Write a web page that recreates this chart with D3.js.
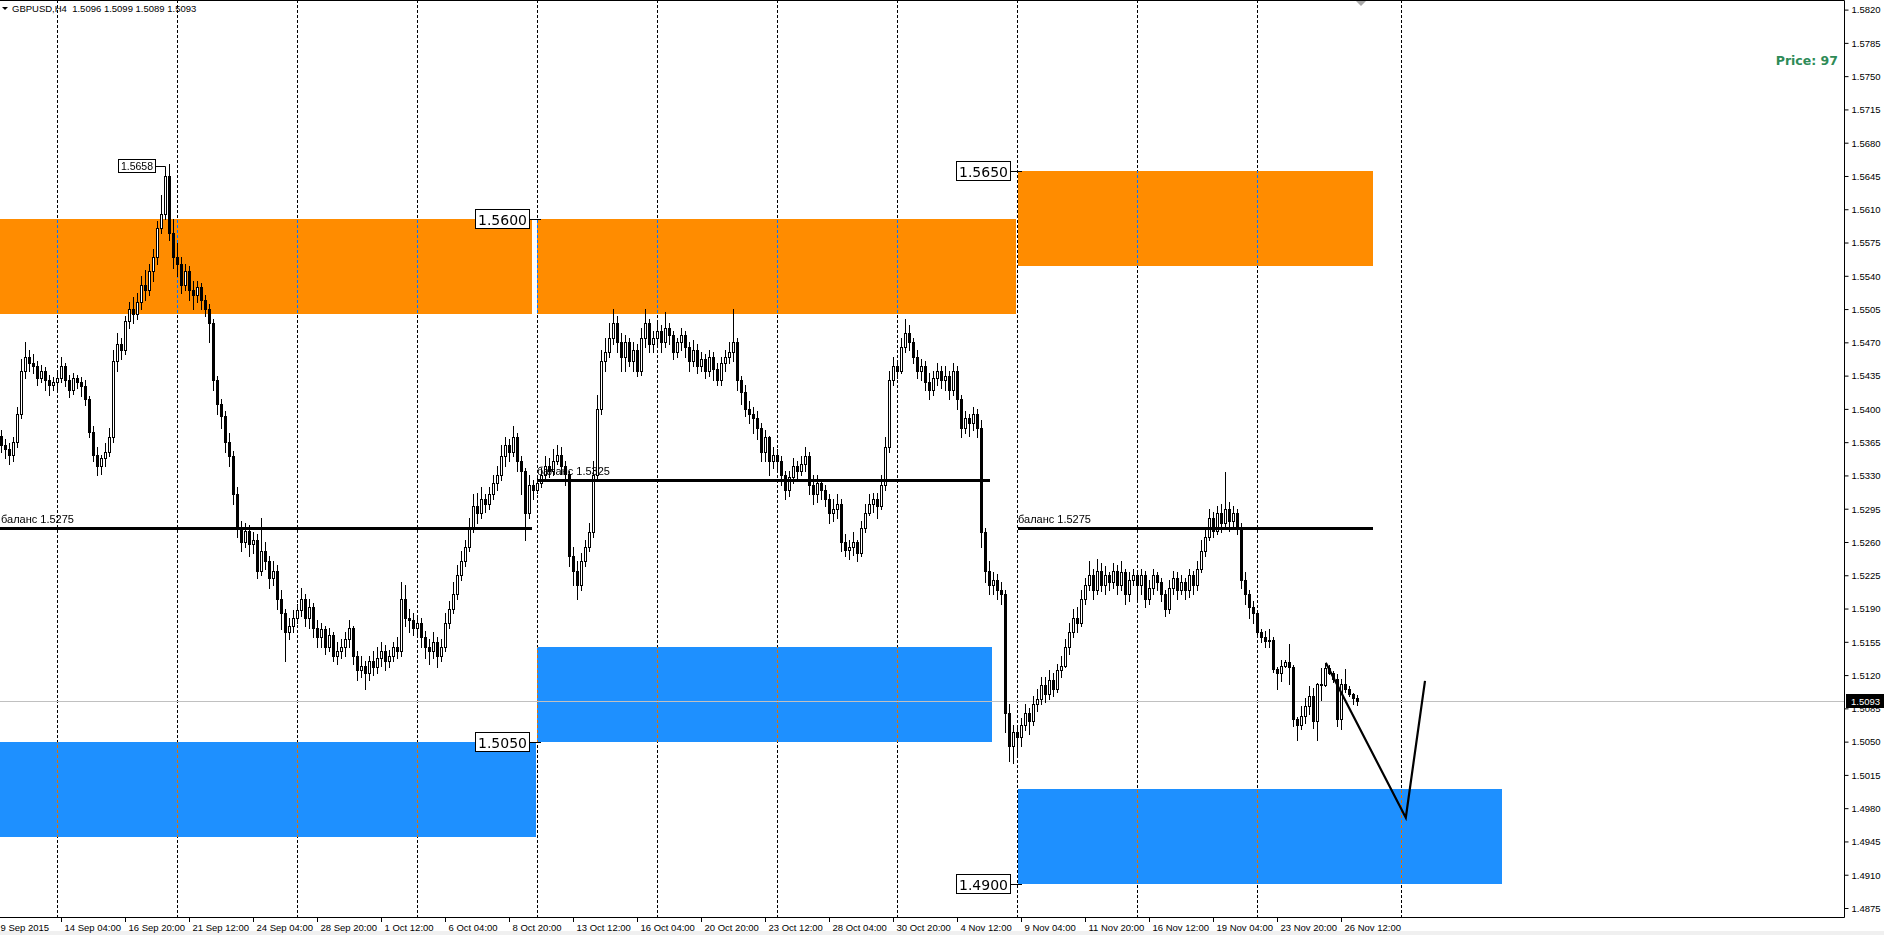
<!DOCTYPE html>
<html>
<head>
<meta charset="utf-8">
<script src="https://cdn.jsdelivr.net/npm/d3@7"></script>
<style>
  html, body { margin: 0; padding: 0; background: #fff; }
  svg { display: block; }
  .small { font-family: "Liberation Sans", Arial, sans-serif; font-size: 9.5px; fill: #000; }
  .lvl { font-family: "DejaVu Sans", Verdana, sans-serif; font-size: 14px; fill: #000; }
</style>
</head>
<body>
<script>
// Define SVG area dimensions
var svgWidth = 1884;
var svgHeight = 935;

// plot area (price scale sits on the right, time scale below)
var plotRight = 1844;
var plotBottom = 917;

// ---- data ----
// bar index 0 = Mon 14 Sep 2015 00:00 (H4 bars, 6 per day, 30 per week)
var firstBar = -14;
var firstOpen = 5372;
// prices stored as the 4 digits after "1." (5362 -> 1.5362)
var closes = [5362,5358,
  5352,5365,5395,5440,5455,5448, 5445,5432,5440,5430,5425,5428,
  5432,5445,5430,5420,5432,5428, 5424,5410,5376,5352,5340,5348, 5355,5370,5450,5468,5462,5492,
  5505,5500,5512,5530,5525,5545, 5560,5590,5605,5645,5585,5560,
  5552,5530,5545,5525,5520,5528, 5515,5505,5490,5430,5405,5392, 5365,5350,5310,5275,5260,5272,
  5258,5262,5230,5250,5240,5222, 5230,5200,5185,5165,5172,5180,
  5188,5200,5180,5192,5170,5160, 5168,5150,5162,5140,5145,5150, 5158,5170,5140,5125,5130,5122,
  5135,5128,5138,5145,5135,5140, 5150,5145,5200,5180,5178,5170,
  5175,5160,5150,5145,5155,5140, 5150,5175,5190,5205,5225,5240, 5255,5275,5298,5290,5305,5300,
  5310,5322,5330,5350,5362,5355, 5370,5345,5335,5290,5320,5315,
  5322,5330,5340,5335,5345,5352, 5340,5332,5245,5230,5215,5240, 5255,5270,5330,5400,5450,5460,
  5475,5490,5470,5455,5470,5450, 5462,5440,5475,5490,5468,5475,
  5482,5470,5485,5478,5460,5470, 5478,5465,5450,5462,5445,5452, 5440,5455,5442,5430,5448,5455,
  5460,5470,5430,5418,5400,5395, 5390,5380,5355,5370,5345,5352,
  5345,5330,5315,5328,5340,5335, 5342,5350,5320,5310,5322,5315, 5305,5290,5295,5300,5260,5252,
  5255,5260,5248,5275,5290,5300, 5305,5298,5320,5360,5430,5445,
  5440,5465,5480,5470,5455,5440, 5445,5428,5420,5432,5440,5430, 5435,5420,5440,5410,5380,5390,
  5385,5395,5380,5270,5230,5215, 5220,5210,5205,5080,5045,5060,
  5055,5068,5080,5072,5090,5095, 5110,5100,5115,5105,5125,5130, 5150,5165,5180,5175,5200,5215,
  5225,5210,5230,5215,5225,5218, 5230,5215,5228,5205,5220,5225,
  5215,5225,5200,5212,5225,5218, 5205,5190,5212,5222,5210,5218, 5210,5225,5215,5232,5250,5265,
  5285,5272,5290,5280,5295,5282, 5290,5275,5220,5205,5192,5185,
  5165,5160,5156,5157,5126,5122, 5130,5134,5129,5074,5067,5077, 5087,5098,5072,5111,5110,5127,
  5122,5116,5074,5111,5105,5100, 5096,5093];
var highs = [5378,5368,
  5364,5370,5402,5452,5470,5462, 5458,5450,5446,5444,5436,5434,
  5440,5455,5448,5436,5438,5436, 5434,5430,5414,5382,5360,5352, 5364,5380,5462,5480,5475,5498,
  5512,5518,5522,5540,5546,5552, 5568,5598,5625,5652,5658,5600,
  5575,5560,5552,5550,5535,5535, 5532,5520,5510,5495,5435,5410, 5398,5375,5356,5318,5282,5280,
  5278,5270,5268,5285,5260,5245, 5240,5236,5210,5190,5180,5188,
  5195,5212,5205,5200,5196,5178, 5175,5172,5170,5165,5155,5158, 5165,5178,5172,5145,5140,5135,
  5140,5145,5150,5155,5152,5146, 5155,5160,5218,5215,5190,5185,
  5182,5180,5166,5158,5165,5160, 5158,5185,5198,5218,5236,5250, 5262,5285,5310,5312,5318,5310,
  5318,5330,5340,5362,5370,5368, 5382,5375,5350,5338,5330,5325,
  5330,5338,5350,5348,5358,5362, 5360,5345,5335,5255,5240,5248, 5262,5280,5345,5415,5462,5475,
  5490,5505,5498,5480,5478,5475, 5470,5468,5485,5505,5495,5482,
  5490,5488,5502,5490,5482,5475, 5485,5482,5470,5472,5468,5460, 5458,5462,5460,5448,5455,5462,
  5470,5505,5475,5435,5425,5408, 5402,5398,5385,5378,5372,5360,
  5358,5350,5335,5335,5348,5345, 5350,5360,5355,5330,5330,5325, 5320,5310,5305,5310,5305,5268,
  5262,5270,5262,5282,5300,5310, 5312,5312,5330,5370,5440,5455,
  5450,5475,5495,5488,5475,5462, 5452,5450,5438,5440,5448,5445, 5445,5440,5448,5445,5415,5398,
  5395,5402,5400,5388,5275,5240, 5228,5226,5218,5210,5090,5068,
  5068,5075,5090,5085,5098,5105, 5118,5118,5125,5122,5132,5140, 5158,5175,5190,5192,5210,5222,
  5240,5232,5242,5238,5235,5228, 5238,5236,5240,5232,5228,5232,
  5228,5232,5230,5220,5232,5228, 5222,5210,5220,5230,5228,5225, 5222,5232,5230,5240,5262,5275,
  5295,5292,5298,5300,5334,5302, 5298,5295,5280,5228,5210,5198,
  5188,5168,5166,5168,5160,5128, 5136,5136,5153,5131,5076,5087, 5096,5108,5106,5112,5127,5133,
  5131,5124,5121,5116,5126,5108, 5101,5099];
var lows = [5355,5348,
  5342,5345,5360,5390,5432,5440, 5438,5425,5428,5420,5415,5420,
  5418,5428,5424,5412,5416,5422, 5414,5404,5370,5345,5330,5332, 5340,5350,5365,5440,5452,5458,
  5485,5490,5495,5505,5515,5520, 5535,5552,5585,5600,5578,5548,
  5540,5522,5525,5515,5505,5512, 5505,5498,5470,5420,5395,5380, 5355,5340,5300,5265,5250,5255,
  5245,5248,5222,5225,5232,5212, 5215,5190,5168,5135,5158,5165,
  5175,5182,5172,5170,5160,5150, 5150,5142,5145,5135,5132,5138, 5140,5150,5132,5115,5118,5105,
  5115,5120,5122,5130,5125,5128, 5135,5138,5140,5172,5165,5162,
  5160,5150,5138,5132,5138,5128, 5135,5145,5170,5185,5200,5220, 5235,5250,5270,5280,5285,5292,
  5295,5305,5315,5325,5340,5345, 5350,5335,5310,5262,5285,5305,
  5312,5318,5325,5328,5330,5342, 5332,5320,5235,5215,5200,5210, 5235,5250,5265,5325,5395,5440,
  5455,5468,5460,5440,5440,5445, 5440,5435,5436,5465,5460,5460,
  5465,5460,5465,5468,5452,5455, 5462,5455,5440,5445,5438,5440, 5432,5435,5430,5425,5425,5440,
  5448,5450,5420,5405,5392,5385, 5375,5368,5345,5345,5330,5338,
  5335,5320,5305,5308,5322,5325, 5330,5335,5310,5300,5302,5305, 5298,5280,5282,5285,5250,5245,
  5242,5246,5240,5245,5270,5288, 5292,5285,5295,5315,5355,5425,
  5432,5438,5460,5462,5448,5432, 5430,5420,5410,5415,5425,5422, 5420,5410,5415,5400,5370,5375,
  5372,5378,5370,5255,5218,5205, 5205,5200,5195,5060,5030,5028,
  5035,5045,5062,5058,5068,5082, 5090,5092,5095,5098,5102,5118, 5128,5142,5160,5165,5172,5195,
  5210,5200,5205,5208,5205,5210, 5212,5205,5210,5195,5198,5215,
  5200,5205,5192,5195,5205,5210, 5198,5182,5185,5205,5200,5205, 5200,5202,5205,5210,5228,5245,
  5262,5265,5268,5270,5275,5272, 5275,5268,5212,5195,5180,5175,
  5160,5155,5150,5150,5123,5105, 5114,5128,5111,5066,5052,5063, 5070,5079,5064,5052,5094,5108,
  5121,5113,5066,5063,5102,5098, 5090,5089];

// price scale labels
var priceTicks = [1.4875,1.4910,1.4945,1.4980,1.5015,1.5050,1.5085,1.5120,1.5155,1.5190,1.5225,
  1.5260,1.5295,1.5330,1.5365,1.5400,1.5435,1.5470,1.5505,1.5540,1.5575,1.5610,1.5645,1.5680,
  1.5715,1.5750,1.5785,1.5820];
// time scale labels: bar index + text
var timeTickBars = [-15,1,17,33,49,65,81,97,113,129,145,161,177,193,209,225,241,257,273,289,305,321];
var timeTickText = ["9 Sep 2015","14 Sep 04:00","16 Sep 20:00","21 Sep 12:00","24 Sep 04:00",
  "28 Sep 20:00","1 Oct 12:00","6 Oct 04:00","8 Oct 20:00","13 Oct 12:00","16 Oct 04:00",
  "20 Oct 20:00","23 Oct 12:00","28 Oct 04:00","30 Oct 20:00","4 Nov 12:00","9 Nov 04:00",
  "11 Nov 20:00","16 Nov 12:00","19 Nov 04:00","23 Nov 20:00","26 Nov 12:00"];
// weekly separators (Monday 00:00), last one in the future area
var weekStarts = [0,30,60,90,120,150,180,210,240,270,300,336];

// supply / demand zones (bar index range, price range)
var zoneKind  = ["supply","demand","supply","demand","supply","demand"];
var zoneFrom  = [-20, -20, 120, 120, 240.25, 240.25];
var zoneTo    = [118.75, 119.75, 239.75, 233.75, 329, 361.25];
var zoneLow   = [1.5500, 1.4950, 1.5500, 1.5050, 1.5550, 1.4900];
var zoneHigh  = [1.5600, 1.5050, 1.5600, 1.5150, 1.5650, 1.5000];

// balance lines
var balFrom  = [-20, 120, 240.25];
var balTo    = [118.75, 233.25, 329];
var balPrice = [1.5275, 1.5325, 1.5275];

// price labels at zone corners
var lvlPrice = [1.5600, 1.5050, 1.5650, 1.4900];
var lvlBar   = [120, 120, 240.25, 240.25];

// swing high label
var peakBar = 27;
var peakPrice = 1.5658;

// projected path
var pathBar   = [317.2, 337.2, 342];
var pathPrice = [1.5133, 1.4970, 1.5114];

var lastPrice = 1.5093;

// ---- build bars ----
var bars = closes.map(function(c, k) {
  var o = k === 0 ? firstOpen : closes[k - 1];
  return {
    i: firstBar + k,
    open: 1 + o / 10000,
    close: 1 + c / 10000,
    high: 1 + Math.max(highs[k], o, c) / 10000,
    low: 1 + Math.min(lows[k], o, c) / 10000
  };
});

// scales
var xScale = d3.scaleLinear().domain([0, 1]).range([57, 61]);
var yScale = d3.scaleLinear().domain([1.4875, 1.5820]).range([908, 9.6]);

var svg = d3.select("body")
  .append("svg")
  .attr("width", svgWidth)
  .attr("height", svgHeight);

svg.append("rect").attr("width", svgWidth).attr("height", svgHeight).attr("fill", "#fff");
svg.append("rect").attr("y", 931).attr("width", svgWidth).attr("height", 4).attr("fill", "#f0f0f0");

svg.append("clipPath").attr("id", "plotClip")
  .append("rect").attr("x", 0).attr("y", 0).attr("width", plotRight).attr("height", plotBottom);

var chart = svg.append("g")
  .attr("clip-path", "url(#plotClip)")
  .style("isolation", "isolate");

chart.append("rect").attr("width", plotRight).attr("height", plotBottom).attr("fill", "#fff");

// zones
var zones = zoneKind.map(function(k, n) {
  return {kind: k, from: zoneFrom[n], to: zoneTo[n], lo: zoneLow[n], hi: zoneHigh[n]};
});
chart.selectAll(".zone")
  .data(zones)
  .enter()
  .append("rect")
  .attr("x", d => xScale(d.from))
  .attr("y", d => Math.round(yScale(d.hi)))
  .attr("width", d => xScale(d.to) - xScale(d.from))
  .attr("height", d => Math.round(yScale(d.lo)) - Math.round(yScale(d.hi)))
  .attr("fill", d => d.kind === "supply" ? "#ff8c00" : "#1e90ff");

// weekly separators, xor-like over the zones
chart.selectAll(".sep")
  .data(weekStarts)
  .enter()
  .append("line")
  .attr("x1", d => Math.round(xScale(d)) + 0.5)
  .attr("x2", d => Math.round(xScale(d)) + 0.5)
  .attr("y1", 0)
  .attr("y2", plotBottom)
  .attr("stroke", "#fff")
  .attr("stroke-dasharray", "3,2")
  .style("mix-blend-mode", "difference");

// last price line
chart.append("line")
  .attr("x1", 0).attr("x2", plotRight)
  .attr("y1", Math.round(yScale(lastPrice)) + 0.5)
  .attr("y2", Math.round(yScale(lastPrice)) + 0.5)
  .attr("stroke", "#c0c0c0");

// candles
var candles = chart.append("g").attr("shape-rendering", "crispEdges");
candles.selectAll(".wick")
  .data(bars)
  .enter()
  .append("line")
  .attr("x1", d => Math.round(xScale(d.i)) + 0.5)
  .attr("x2", d => Math.round(xScale(d.i)) + 0.5)
  .attr("y1", d => Math.round(yScale(d.high)))
  .attr("y2", d => Math.round(yScale(d.low)) + 1)
  .attr("stroke", "#000");

candles.selectAll(".body")
  .data(bars)
  .enter()
  .append("rect")
  .attr("x", d => Math.round(xScale(d.i)) - 1 + (d.close > d.open ? 0.5 : 0))
  .attr("y", d => Math.round(yScale(Math.max(d.open, d.close))) + (d.close > d.open ? 0.5 : 0))
  .attr("width", d => d.close > d.open ? 2 : 3)
  .attr("height", d => Math.max(1, Math.round(yScale(Math.min(d.open, d.close))) - Math.round(yScale(Math.max(d.open, d.close))) + (d.close > d.open ? 0 : 1)))
  .attr("fill", d => d.close > d.open ? "#fff" : "#000")
  .attr("stroke", d => d.close > d.open ? "#000" : "none");

// balance lines
balPrice.forEach(function(p, n) {
  var yy = Math.round(yScale(p));
  chart.append("rect")
    .attr("x", xScale(balFrom[n]))
    .attr("y", yy - 1)
    .attr("width", xScale(balTo[n]) - xScale(balFrom[n]))
    .attr("height", 3)
    .attr("fill", "#000");
  chart.append("text")
    .attr("class", "small")
    .style("font-size", "11px")
    .attr("x", Math.max(xScale(balFrom[n]), 1))
    .attr("y", yy - 5)
    .text("баланс " + p.toFixed(4));
});

// projection
chart.append("path")
  .datum(pathBar.map((b, n) => [b, pathPrice[n]]))
  .attr("d", d3.line().x(d => xScale(d[0])).y(d => yScale(d[1])))
  .attr("fill", "none")
  .attr("stroke", "#000")
  .attr("stroke-width", 2.2);

// level labels
lvlPrice.forEach(function(p, n) {
  var ax = Math.round(xScale(lvlBar[n]));
  var yy = Math.round(yScale(p));
  var g = chart.append("g");
  var t = g.append("text")
    .attr("class", "lvl")
    .attr("text-anchor", "end")
    .attr("x", ax - 10)
    .attr("y", yy + 5.5)
    .text(p.toFixed(4));
  var bb = t.node().getBBox();
  g.insert("rect", "text")
    .attr("x", Math.round(bb.x) - 2.5)
    .attr("y", yy - 9.5)
    .attr("width", Math.round(bb.width) + 5)
    .attr("height", 19)
    .attr("fill", "#fff")
    .attr("stroke", "#000");
  g.append("line")
    .attr("x1", Math.round(bb.x) + Math.round(bb.width) + 2.5).attr("x2", ax + 4)
    .attr("y1", yy + 0.5).attr("y2", yy + 0.5)
    .attr("stroke", "#000");
});

// peak label
(function() {
  var ax = Math.round(xScale(peakBar));
  var yy = Math.round(yScale(peakPrice)) + 2;
  var t = chart.append("text")
    .attr("class", "small")
    .style("font-size", "10.5px")
    .attr("text-anchor", "end")
    .attr("x", ax - 12)
    .attr("y", yy + 4)
    .text(peakPrice.toFixed(4));
  var bb = t.node().getBBox();
  chart.insert("rect", "text:last-child")
    .attr("x", Math.round(bb.x) - 2.5)
    .attr("y", yy - 6.5)
    .attr("width", Math.round(bb.width) + 5)
    .attr("height", 13)
    .attr("fill", "#fff")
    .attr("stroke", "#000");
  chart.append("path")
    .attr("d", "M" + (Math.round(bb.x + bb.width) + 2.5) + "," + (yy + 0.5) + "H" + (ax + 0.5) + "V" + (yy + 10))
    .attr("fill", "none")
    .attr("stroke", "#000");
})();

// chart shift marker
svg.append("path")
  .attr("d", "M1355,0 L1367,0 L1361,6 Z")
  .attr("fill", "#a8a8a8");

// header
svg.append("path").attr("d", "M2,7 L8,7 L5,10 Z").attr("fill", "#000");
svg.append("text")
  .attr("class", "small")
  .attr("x", 12)
  .attr("y", 12)
  .text("GBPUSD,H4  1.5096 1.5099 1.5089 1.5093")
  .attr("xml:space", "preserve");

svg.append("text")
  .attr("x", 1838)
  .attr("y", 65)
  .attr("text-anchor", "end")
  .style("font-family", "'DejaVu Sans', Verdana, sans-serif")
  .style("font-weight", "bold")
  .style("font-size", "12.5px")
  .attr("fill", "#2e8b57")
  .text("Price: 97");

// frame
svg.append("path")
  .attr("d", "M0,0.5 H" + (plotRight + 0.5) + " V" + (plotBottom + 0.5) + " H0")
  .attr("fill", "none")
  .attr("stroke", "#000");

// price axis
var rightAxis = d3.axisRight(yScale)
  .tickValues(priceTicks)
  .tickSize(4)
  .tickFormat(d3.format(".4f"));
var ra = svg.append("g")
  .attr("transform", `translate(${plotRight + 0.5}, 0)`)
  .call(rightAxis);
ra.select(".domain").remove();
ra.selectAll("text").attr("class", "small").attr("x", 7).attr("dy", "0.35em").attr("font-family", null).attr("font-size", null);
ra.selectAll("line").attr("stroke", "#000");

// last price marker
var ly = Math.round(yScale(lastPrice));
svg.append("rect").attr("x", plotRight + 2).attr("y", ly - 7).attr("width", 38).attr("height", 14).attr("fill", "#000");
svg.append("text")
  .attr("class", "small")
  .style("fill", "#fff")
  .attr("x", plotRight + 7)
  .attr("y", ly + 3.5)
  .text(lastPrice.toFixed(4));

// time axis
var bottomAxis = d3.axisBottom(xScale)
  .tickValues(timeTickBars)
  .tickSize(5)
  .tickFormat((d, n) => timeTickText[n]);
var ta = svg.append("g")
  .attr("transform", `translate(0, ${plotBottom})`)
  .call(bottomAxis);
ta.select(".domain").remove();
ta.selectAll("text")
  .attr("class", "small")
  .attr("font-family", null).attr("font-size", null)
  .attr("text-anchor", "start")
  .attr("x", 3)
  .attr("y", 7)
  .attr("dy", "0.71em");
ta.selectAll("line").attr("stroke", "#000");
</script>
</body>
</html>
